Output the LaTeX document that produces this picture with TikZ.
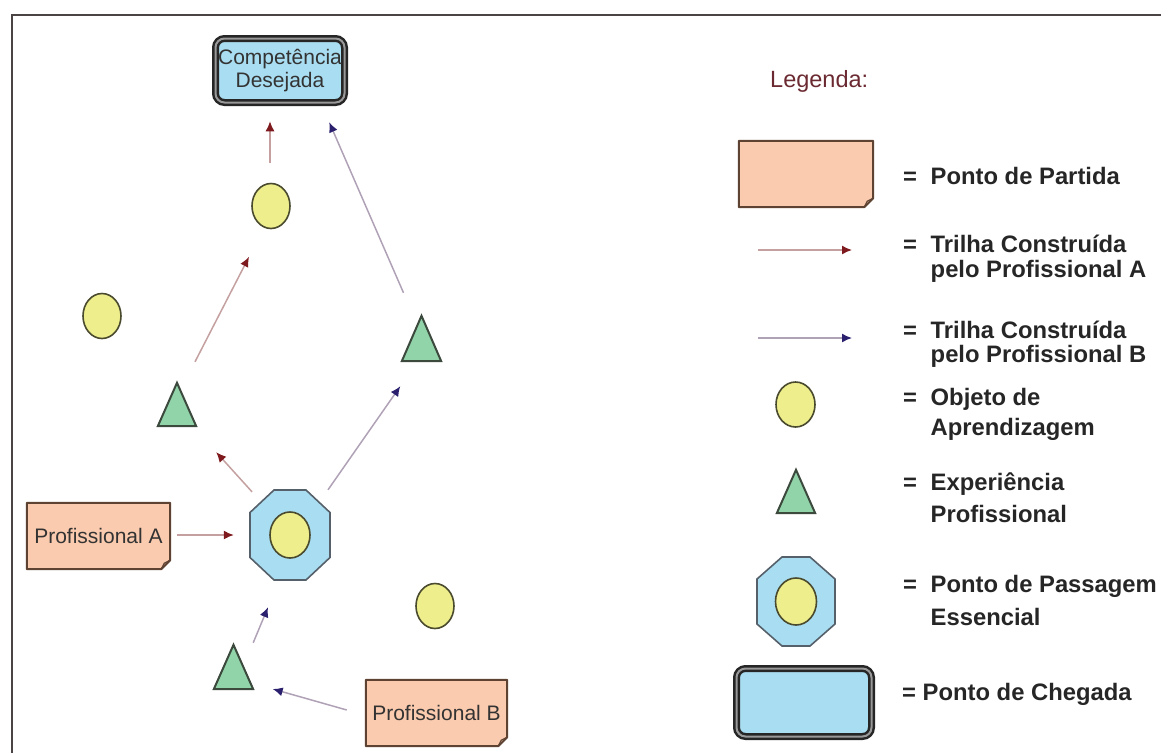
\documentclass[tikz,border=0pt]{standalone}
\usepackage{fontspec}
\setmainfont{Liberation Sans}
\usetikzlibrary{arrows.meta,shapes.geometric,backgrounds}
\definecolor{peach}{HTML}{FACBAE}
\definecolor{peachline}{HTML}{5E4232}
\definecolor{ylw}{HTML}{EEEE8C}
\definecolor{ylwline}{HTML}{4A4A2E}
\definecolor{mint}{HTML}{92D4AA}
\definecolor{mintline}{HTML}{3C4A3E}
\definecolor{skyb}{HTML}{A9DDF1}
\definecolor{skyline}{HTML}{55606A}
\definecolor{redline}{HTML}{C4A0A0}
\definecolor{redhead}{HTML}{7E1A1E}
\definecolor{blueline}{HTML}{B0A2B6}
\definecolor{bluehead}{HTML}{2A206E}
\definecolor{framec}{HTML}{4A4444}
\definecolor{legc}{HTML}{6B2A32}
\definecolor{txt}{HTML}{333333}
\newcommand\drawnote[1]{%
  \draw[notest] (#1.north west) -- (#1.north east) -- ([yshift=9pt]#1.south east) -- ([xshift=-9pt]#1.south east) -- (#1.south west) -- cycle;
  \draw[notest,fill=none,line width=1.2pt] ([yshift=9pt]#1.south east) -- ([xshift=-6pt,yshift=6pt]#1.south east) -- ([xshift=-9pt]#1.south east);}
\begin{document}
\begin{tikzpicture}[x=1pt,y=-1pt,
  notenode/.style={inner sep=0, text=txt, font=\fontsize{21}{23}\selectfont},
  notest/.style={draw=peachline, fill=peach, line width=2pt, line join=round},
  oval/.style={ellipse, draw=ylwline, fill=ylw, line width=1.6pt, minimum width=38pt, minimum height=45pt, inner sep=0},
  trinode/.style={inner sep=0},
  trist/.style={draw=mintline, fill=mint, line width=2pt, line join=miter},
  octnode/.style={inner sep=0},
  octst/.style={draw=skyline, fill=skyb, line width=1.6pt},
  goalst/.style={rounded corners=9pt, draw=black!85, double=black!40, line width=2.5pt, double distance=2pt, fill=skyb, inner sep=0, text=txt, align=center, font=\fontsize{21}{23}\selectfont},
  arrA/.style={draw=redline, line width=1.5pt, -{Latex[length=10pt,width=9pt,color=redhead]}},
  arrB/.style={draw=blueline, line width=1.5pt, -{Latex[length=10pt,width=9pt,color=bluehead]}},
  legtext/.style={anchor=base west, inner sep=0, font=\bfseries\fontsize{23.8}{26}\selectfont, text=black!85}]
\useasboundingbox (0,0) rectangle (1161,753);
\draw[framec, line width=2.5pt] (12,753) -- (12,15) -- (1161,15);

% ---------- diagram nodes ----------
\node[goalst, minimum width=129pt, minimum height=64pt] (goal) at (280,70.5) {Competência\\Desejada};
\node[oval] (cT) at (271,206) {};
\node[oval] (cL) at (102,316) {};
\node[oval] (cB) at (435,606) {};
\node[trinode, minimum width=38pt, minimum height=43pt] (tL) at (177,404.5) {};
\node[trinode, minimum width=39pt, minimum height=45pt] (tR) at (421.5,338.5) {};
\node[trinode, minimum width=39pt, minimum height=44pt] (tB) at (233.5,667) {};
\node[octnode, minimum width=80pt, minimum height=90pt] (oct) at (290,535) {};
\node[oval, minimum width=40pt, minimum height=46pt] (cO) at (oct) {};
\node[notenode, minimum width=143pt, minimum height=66pt] (pa) at (98.5,536) {Profissional A};
\node[notenode, minimum width=141pt, minimum height=66pt] (pb) at (436.5,713) {Profissional B};

% ---------- legend nodes ----------
\node[anchor=base west, inner sep=0, text=legc, font=\fontsize{23.5}{26}\selectfont] (leg) at (770,87) {Legenda:};
\node[notenode, minimum width=134pt, minimum height=66pt] (lp) at (806,174) {};
\coordinate (la1s) at (758,250);
\coordinate (la1e) at (852,250);
\coordinate (la2s) at (758,338);
\coordinate (la2e) at (852,338);
\node[oval, minimum width=39pt] (lc) at (795.5,404.5) {};
\node[trinode, minimum width=38pt, minimum height=43pt] (lt) at (796,491.5) {};
\node[octnode, minimum width=78pt, minimum height=89pt] (lo) at (796,601.5) {};
\node[oval, minimum width=41pt, minimum height=47pt] (loc) at (lo) {};
\node[goalst, minimum width=135pt, minimum height=68pt] (lg) at (804,702.5) {};

\node[legtext] (l1) at (903,184) {\begin{tabular}[t]{@{}l@{\hspace{13.6pt}}l@{}}=&Ponto de Partida\end{tabular}};
\node[legtext] (l2) at (903,252) {\begin{tabular}[t]{@{}l@{\hspace{13.6pt}}l@{}}=&Trilha Construída\\[-1pt]&pelo Profissional A\end{tabular}};
\node[legtext] (l3) at (903,338) {\begin{tabular}[t]{@{}l@{\hspace{13.6pt}}l@{}}=&Trilha Construída\\[-2pt]&pelo Profissional B\end{tabular}};
\node[legtext] (l4) at (903,405) {\begin{tabular}[t]{@{}l@{\hspace{13.6pt}}l@{}}=&Objeto de\\[4pt]&Aprendizagem\end{tabular}};
\node[legtext] (l5) at (903,490) {\begin{tabular}[t]{@{}l@{\hspace{13.6pt}}l@{}}=&Experiência\\[6pt]&Profissional\end{tabular}};
\node[legtext] (l6) at (903,592) {\begin{tabular}[t]{@{}l@{\hspace{13.6pt}}l@{}}=&Ponto de Passagem\\[7pt]&Essencial\end{tabular}};
\node[legtext] (l7) at (902,700) {= Ponto de Chegada};

% ---------- background shapes ----------
\begin{scope}[on background layer]
  \drawnote{pa}
  \drawnote{pb}
  \drawnote{lp}
  \foreach \t in {tL,tR,tB,lt}{
    \draw[trist] (\t.south west) -- (\t.south east) -- (\t.north) -- cycle;}
  \draw[octst] (oct.center) ++(-16,-45) -- ++(32,0) -- ++(24,22.5) -- ++(0,45) -- ++(-24,22.5) -- ++(-32,0) -- ++(-24,-22.5) -- ++(0,-45) -- cycle;
  \draw[octst] (lo.center) ++(-14,-44.5) -- ++(28,0) -- ++(25,22) -- ++(0,45) -- ++(-25,22) -- ++(-28,0) -- ++(-25,-22) -- ++(0,-45) -- cycle;
\end{scope}

% ---------- connectors ----------
\draw[arrA] ([xshift=-1pt,yshift=20pt]cT.north) -- ([xshift=-10pt,yshift=-17.5pt]goal.south);
\draw[arrB] ([xshift=-18pt,yshift=23pt]tR.north) -- ([xshift=-16.5pt,yshift=-18.5pt]goal.south east);
\draw[arrA] ([xshift=18pt,yshift=21pt]tL.north) -- ([xshift=-22pt,yshift=-27.5pt]cT.south);
\draw[arrA] ([xshift=-38pt,yshift=-2pt]oct.north) -- ([xshift=20pt,yshift=-26pt]tL.south east);
\draw[arrB] ([xshift=38pt]oct.north) -- ([xshift=-1.5pt,yshift=-25pt]tR.south west);
\draw[arrA] ([xshift=7pt,yshift=1pt]pa.east) -- ([xshift=-16pt]oct.west);
\draw[arrB] ([yshift=2pt]tB.north east) -- ([xshift=-22pt,yshift=-27pt]oct.south);
\draw[arrB] ([xshift=-19pt,yshift=3pt]pb.west) -- ([xshift=19.5pt,yshift=-22pt]tB.east);
\draw[arrA] (la1s) -- (la1e);
\draw[arrB] (la2s) -- (la2e);
\end{tikzpicture}
\end{document}
